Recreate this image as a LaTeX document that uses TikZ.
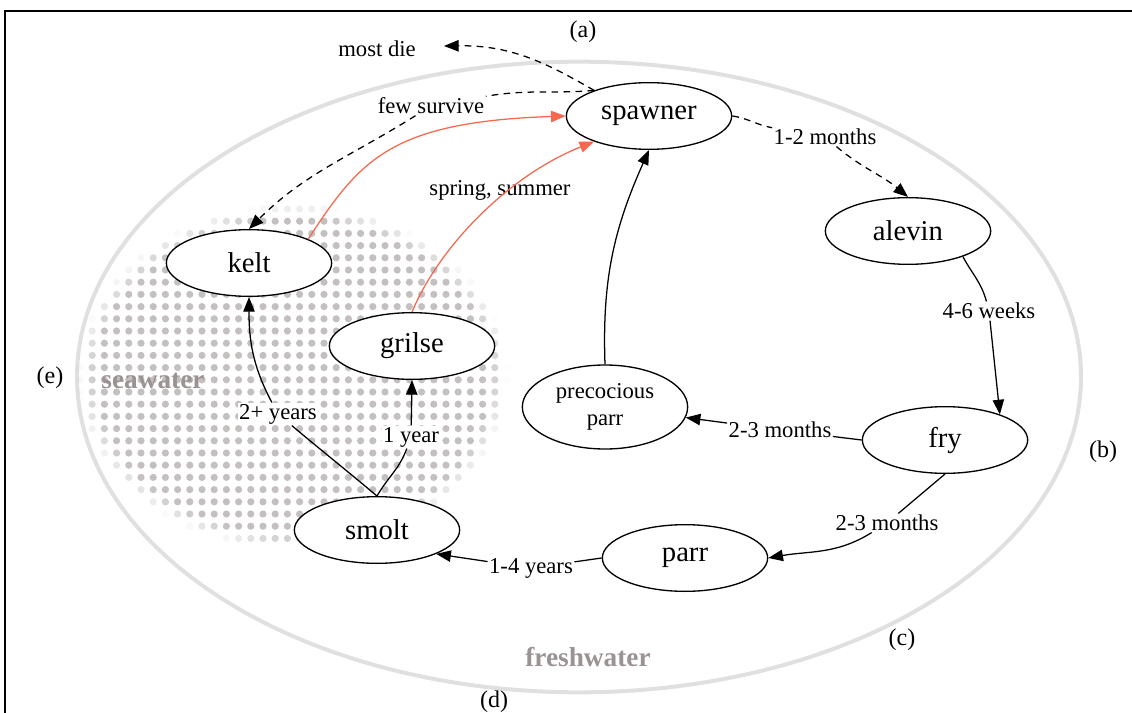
\documentclass[tikz,border=0pt]{standalone}
\usepackage{fontspec}
\setmainfont{Liberation Serif}
\usetikzlibrary{shapes.geometric,arrows.meta}
\definecolor{ringgray}{RGB}{224,224,224}
\definecolor{dotgray}{RGB}{196,192,192}
\definecolor{zonetext}{RGB}{155,147,147}
\definecolor{returnred}{RGB}{246,104,78}
\begin{document}
\begin{tikzpicture}[x=0.75pt,y=-0.75pt,
  stage/.style={ellipse,draw,fill=white,line width=1pt,minimum width=124pt,minimum height=50pt,
    inner sep=0pt,font=\fontsize{21.5}{24}\selectfont},
  elabel/.style={fill=white,inner sep=1pt,font=\fontsize{17}{20}\selectfont},
  plainlabel/.style={inner sep=1pt,font=\fontsize{17}{20}\selectfont},
  tag/.style={font=\fontsize{18}{21}\selectfont},
  zone/.style={text=zonetext,font=\fontsize{20.5}{24}\selectfont\bfseries},
  link/.style={line width=0.95pt},
  flow/.style={line width=0.95pt,-{Triangle[length=11pt,width=8.5pt]}},
  dashline/.style={dash pattern=on 5pt off 4pt},
  back/.style={flow,returnred}]
\useasboundingbox (0,0) rectangle (1132,713);

% frame
\draw[line width=1.5pt] (5,713) -- (5,11) -- (1132,11);

% freshwater ring
\draw[ringgray,line width=3pt] (579,377) ellipse [x radius=376.5pt, y radius=236.5pt];

% seawater dotted zone, fading at its rim
\foreach \i in {0,...,35} {
  \foreach \j in {0,...,28} {
    \pgfmathsetmacro\px{80+12.2*\i}
    \pgfmathsetmacro\py{209+12.2*\j}
    \pgfmathsetmacro\dd{sqrt(((\px-293)/215)^2+((\py-377)/172)^2)}
    \ifdim\dd pt<1pt
      \pgfmathsetmacro\op{min(1,(1-\dd)*12)}
      \fill[dotgray,opacity=\op] (\px,\py) circle (2.7pt);
    \fi
  }
}

\node[zone] (seawater) at (153,381) {seawater};
\node[zone] (freshwater) at (588,657) {freshwater};

% section tags
\node[tag] (ta) at (583,32) {(a)};
\node[tag] (tb) at (1103,452) {(b)};
\node[tag] (tc) at (902,640) {(c)};
\node[tag] (td) at (494,702) {(d)};
\node[tag] (te) at (50,378) {(e)};

% life stages
\node[stage] (spawner) at (649,116) {spawner};
\node[stage] (alevin) at (908,231) {alevin};
\node[stage] (fry) at (945,440) {fry};
\node[stage,minimum height=63pt,font=\fontsize{17}{20}\selectfont,align=center] (pp) at (605,407) {precocious\\parr};
\node[stage] (parr) at (685,558) {parr};
\node[stage] (smolt) at (377,530) {smolt};
\node[stage] (grilse) at (412,346) {grilse};
\node[stage] (kelt) at (249,263) {kelt};

% edge labels
\node[plainlabel] (mostdie) at (377,49) {most die};
\coordinate (dieend) at (444,46);
\node[elabel] (few) at (431,106) {few survive};
\node[elabel] (m12) at (825,137) {1-2 months};
\node[elabel] (w46) at (989,311) {4-6 weeks};
\node[elabel] (m23a) at (780,430) {2-3 months};
\node[elabel] (m23b) at (887,523) {2-3 months};
\node[elabel] (y14) at (531,568) {1-4 years};
\node[elabel] (y2p) at (278,414) {2+ years};
\node[elabel] (y1) at (411,437) {1 year};
\node[plainlabel] (spring) at (500,190) {spring, summer};

% spawning outcomes
\draw[flow,dashline] (spawner.155) .. controls (545,62) and (510,45) .. (dieend);
\draw[link,dashline] (spawner.155) to[out=185,in=10] (few);
\draw[flow,dashline] (few) to[out=-148,in=45] (kelt.north);
\draw[link,dashline] (spawner.east) to[out=-8,in=170] (m12);
\draw[flow,dashline] (m12) to[out=-40,in=140] (alevin.north);

% freshwater development
\draw[link] (alevin.-25) to[out=-62,in=105] (w46);
\draw[flow] (w46) to[out=-84,in=96] (fry.25);
\draw[link] (fry.west) -- (m23a);
\draw[flow] (m23a) -- (pp);
\draw[flow] (pp.north) to[out=92,in=-114] (spawner.south);
\draw[link] (fry.south) -- (m23b);
\draw[flow] (m23b) to[out=-148,in=10] (parr.east);
\draw[link] (parr.west) -- (y14);
\draw[flow] (y14) -- (smolt.-22);

% sea phase
\draw[link] (smolt.north) to[out=140,in=-40] (y2p);
\draw[flow] (y2p) to[out=118,in=-90] (kelt.south);
\draw[link] (smolt.north) to[out=60,in=-110] (y1);
\draw[flow] (y1) -- (grilse.south);

% return migration
\draw[back] (kelt.22) .. controls (360,160) and (390,122) .. (spawner.west);
\draw[back] (grilse.north) .. controls (440,245) and (510,175) .. (spawner.205);
\end{tikzpicture}
\end{document}
